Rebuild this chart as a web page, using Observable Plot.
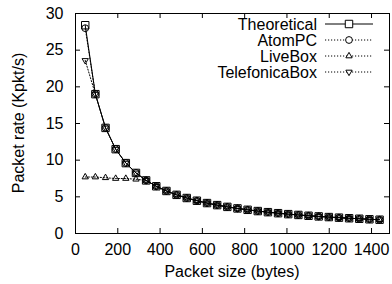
<!DOCTYPE html>
<html><head><meta charset="utf-8">
<script src="https://cdn.jsdelivr.net/npm/d3@7"></script>
<script src="https://cdn.jsdelivr.net/npm/@observablehq/plot@0.6"></script>
<style>body{margin:0;background:#fff} svg{display:block}</style>
</head><body><div id="chart"></div>
<script>
// ---- data ----
const packetSizes = [46, 94, 142, 190, 238, 286, 334, 382, 430, 478, 526, 574, 622, 670, 718, 766, 814, 862, 910, 958, 1006, 1054, 1102, 1150, 1198, 1246, 1294, 1342, 1390, 1438];
const theoretical = [28.4, 19.0, 14.4, 11.5, 9.6, 8.26, 7.24, 6.44, 5.80, 5.27, 4.84, 4.47, 4.15, 3.87, 3.63, 3.42, 3.23, 3.06, 2.91, 2.77, 2.64, 2.53, 2.42, 2.33, 2.24, 2.16, 2.08, 2.01, 1.94, 1.88];
const atomPC = [28.0, 19.0, 14.4, 11.5, 9.6, 8.26, 7.24, 6.44, 5.80, 5.27, 4.84, 4.47, 4.15, 3.87, 3.63, 3.42, 3.23, 3.06, 2.91, 2.77, 2.64, 2.53, 2.42, 2.33, 2.24, 2.16, 2.08, 2.01, 1.94, 1.88];
const liveBox = [7.7, 7.7, 7.6, 7.5, 7.5, 7.4, 7.24, 6.44, 5.80, 5.27, 4.84, 4.47, 4.15, 3.87, 3.63, 3.42, 3.23, 3.06, 2.91, 2.77, 2.64, 2.53, 2.42, 2.33, 2.24, 2.16, 2.08, 2.01, 1.94, 1.88];
const telefonicaBox = [23.6, 19.0, 14.4, 11.5, 9.6, 8.26, 7.24, 6.44, 5.80, 5.27, 4.84, 4.47, 4.15, 3.87, 3.63, 3.42, 3.23, 3.06, 2.91, 2.77, 2.64, 2.53, 2.42, 2.33, 2.24, 2.16, 2.08, 2.01, 1.94, 1.88];
const seriesNames = ["Theoretical", "AtomPC", "LiveBox", "TelefonicaBox"];
const xTicks = [0, 200, 400, 600, 800, 1000, 1200, 1400];
const yTicks = [0, 5, 10, 15, 20, 25, 30];
const xTitle = "Packet size (bytes)";
const yTitle = "Packet rate (Kpkt/s)";

// ---- layout / style ----
const W = 392, H = 284, mL = 75, mR = 3, mT = 13, mB = 51;
const frameW = W - mL - mR, frameH = H - mT - mB, tk = 5;
const font = "'Liberation Sans', Arial, Helvetica, sans-serif";
const fs = 16;
const styles = [
  {symbol: "square", r: 4.2, dash: null, rotate: 0},
  {symbol: "circle", r: 3.4, dash: "1.2,1.8", rotate: 0},
  {symbol: "triangle2", r: 3.0, dash: "1.2,1.8", rotate: 0},
  {symbol: "triangle2", r: 3.0, dash: "1.2,1.8", rotate: 180}
];
const seriesValues = [theoretical, atomPC, liveBox, telefonicaBox];
const tables = seriesValues.map(vals => packetSizes.map((x, i) => ({x, y: vals[i]})));

const marks = [
  Plot.axisX(xTicks, {tickSize: 0, tickPadding: 10, tickFormat: d => String(d), label: null}),
  Plot.axisY(yTicks, {tickSize: 0, tickPadding: 12, tickFormat: d => String(d), label: null}),
  Plot.ruleX(xTicks, {x: d => d, insetTop: frameH - tk, stroke: "#000"}),
  Plot.ruleX(xTicks, {x: d => d, insetBottom: frameH - tk, stroke: "#000"}),
  Plot.ruleY(yTicks, {y: d => d, insetRight: frameW - tk, stroke: "#000"}),
  Plot.ruleY(yTicks, {y: d => d, insetLeft: frameW - tk, stroke: "#000"})
];
tables.forEach((t, i) => {
  const s = styles[i];
  marks.push(Plot.line(t, {x: "x", y: "y", stroke: "#000", strokeWidth: 1, strokeDasharray: s.dash}));
});
tables.forEach((t, i) => {
  const s = styles[i];
  marks.push(Plot.dot(t, {x: "x", y: "y", symbol: s.symbol, r: s.r, rotate: s.rotate, stroke: "#000", fill: "none", strokeWidth: 1}));
});
marks.push(Plot.frame({stroke: "#000", strokeWidth: 1}));

const chart = Plot.plot({
  width: W, height: H,
  marginLeft: mL, marginRight: mR, marginTop: mT, marginBottom: mB,
  style: {fontFamily: font, fontSize: fs + "px", color: "#000", background: "#fff"},
  x: {domain: [0, 1485]},
  y: {domain: [0, 30]},
  marks
});
document.getElementById("chart").append(chart);

// ---- titles and legend ----
const svg = d3.select(chart);
svg.append("text").attr("x", mL + frameW / 2).attr("y", 276.5).attr("text-anchor", "middle")
  .attr("font-family", font).attr("font-size", fs).attr("fill", "#000").text(xTitle);
svg.append("text").attr("transform", `translate(24,${mT + frameH / 2}) rotate(-90)`).attr("text-anchor", "middle")
  .attr("font-family", font).attr("font-size", fs).attr("fill", "#000").text(yTitle);

const lg = svg.append("g");
seriesNames.forEach((name, i) => {
  const cy = 24 + i * 16;
  const s = styles[i];
  lg.append("text").attr("x", 317).attr("y", cy + 5.6).attr("text-anchor", "end")
    .attr("font-family", font).attr("font-size", fs).attr("fill", "#000").text(name);
  lg.append("line").attr("x1", 325).attr("x2", 373).attr("y1", cy).attr("y2", cy)
    .attr("stroke", "#000").attr("stroke-width", 1).attr("stroke-dasharray", s.dash);
  const sym = {square: d3.symbolSquare, circle: d3.symbolCircle, triangle2: d3.symbolTriangle2}[s.symbol];
  lg.append("path").attr("d", d3.symbol(sym, Math.PI * s.r * s.r)())
    .attr("transform", `translate(349,${cy}) rotate(${s.rotate})`)
    .attr("fill", "#fff").attr("stroke", "#000").attr("stroke-width", 1);
});
</script>
</body></html>
